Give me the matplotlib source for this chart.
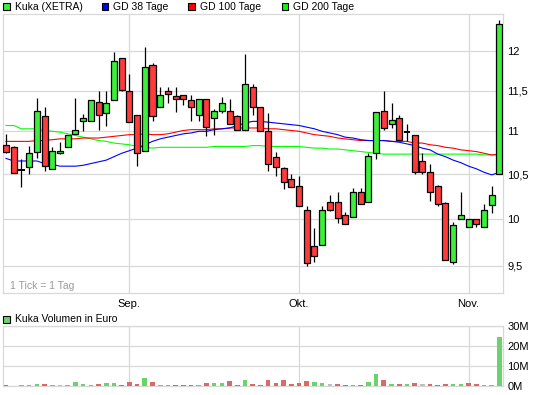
import numpy as np
import matplotlib
matplotlib.use("Agg")
import matplotlib.pyplot as plt
from matplotlib.patches import Rectangle
from matplotlib.ticker import NullLocator

# daily candles (EUR)
opens = [10.84, 10.81, 10.55, 10.58, 10.75, 11.18, 10.56, 10.74, 10.81, 10.97,
         11.12, 11.13, 11.36, 11.22, 11.38, 11.91, 11.50, 11.20, 10.77, 11.82,
         11.29, 11.50, 11.43, 11.45, 11.38, 11.20, 11.40, 11.16, 11.25, 11.25,
         11.18, 11.01, 11.55, 11.29, 11.00, 10.70, 10.57, 10.44, 10.36, 10.10,
         9.71, 9.72, 10.18, 10.19, 10.04, 10.02, 10.30, 10.19, 10.74, 11.25,
         11.09, 11.16, 10.99, 10.95, 10.65, 10.52, 10.36, 10.17, 9.54, 10.00,
         9.91, 10.00, 9.91, 10.15, 10.50]
highs = [10.97, 10.83, 10.67, 10.82, 11.41, 11.30, 10.81, 10.87, 10.95, 11.41,
         11.21, 11.38, 11.49, 11.49, 11.99, 11.91, 11.71, 11.20, 12.06, 11.85,
         11.54, 11.55, 11.54, 11.45, 11.45, 11.39, 11.40, 11.27, 11.42, 11.40,
         11.20, 11.97, 11.58, 11.29, 11.22, 10.76, 10.58, 10.50, 10.48, 10.14,
         9.90, 10.14, 10.26, 10.30, 10.07, 10.34, 10.34, 10.74, 11.23, 11.49,
         11.34, 11.20, 11.09, 10.95, 10.74, 10.61, 10.37, 10.19, 9.96, 10.30,
         10.00, 10.00, 10.16, 10.36, 12.42]
lows = [10.74, 10.51, 10.35, 10.50, 10.68, 10.53, 10.56, 10.73, 10.81, 10.97,
        11.00, 11.13, 11.02, 11.06, 11.38, 11.49, 11.11, 10.59, 10.77, 11.12,
        11.29, 11.35, 11.23, 11.32, 11.13, 11.12, 10.94, 10.96, 11.22, 11.09,
        11.01, 11.01, 11.20, 11.00, 10.54, 10.48, 10.33, 10.35, 10.14, 9.50,
        9.54, 9.72, 10.08, 9.95, 9.94, 10.02, 10.16, 10.18, 10.67, 11.01,
        11.04, 10.90, 10.89, 10.50, 10.50, 10.20, 10.14, 9.56, 9.52, 10.00,
        9.91, 9.91, 9.91, 10.06, 10.50]
closes = [10.75, 10.51, 10.55, 10.74, 11.25, 10.59, 10.77, 10.77, 10.95, 11.01,
          11.16, 11.38, 11.20, 11.34, 11.87, 11.51, 11.11, 10.74, 11.80, 11.18,
          11.45, 11.46, 11.40, 11.39, 11.30, 11.39, 11.05, 11.25, 11.35, 11.09,
          11.02, 11.58, 11.30, 11.00, 10.61, 10.58, 10.41, 10.35, 10.14, 9.53,
          9.60, 10.10, 10.10, 10.01, 9.94, 10.30, 10.16, 10.71, 11.23, 11.04,
          11.14, 10.90, 10.99, 10.52, 10.52, 10.30, 10.16, 9.56, 9.93, 10.04,
          10.00, 9.94, 10.10, 10.26, 12.36]

# moving averages
gd38 = [10.68, 10.65, 10.65, 10.65, 10.65, 10.62, 10.61, 10.59, 10.59, 10.59,
        10.60, 10.62, 10.64, 10.66, 10.70, 10.74, 10.77, 10.80, 10.84, 10.88,
        10.91, 10.93, 10.95, 10.97, 10.98, 11.00, 11.00, 11.02, 11.03, 11.04,
        11.07, 11.10, 11.12, 11.12, 11.11, 11.10, 11.09, 11.08, 11.07, 11.05,
        11.03, 11.00, 10.98, 10.96, 10.93, 10.92, 10.90, 10.89, 10.89, 10.89,
        10.88, 10.87, 10.85, 10.83, 10.80, 10.78, 10.73, 10.70, 10.66, 10.63,
        10.59, 10.56, 10.52, 10.49, 10.52]
gd100 = [10.88, 10.88, 10.88, 10.88, 10.89, 10.89, 10.90, 10.91, 10.91, 10.91,
         10.92, 10.92, 10.92, 10.93, 10.94, 10.95, 10.96, 10.96, 10.97, 10.96,
         10.96, 10.97, 10.99, 11.01, 11.02, 11.02, 11.02, 11.03, 11.03, 11.04,
         11.04, 11.04, 11.04, 11.04, 11.03, 11.03, 11.02, 11.01, 11.00, 10.98,
         10.96, 10.95, 10.94, 10.92, 10.91, 10.90, 10.89, 10.89, 10.89, 10.89,
         10.88, 10.88, 10.88, 10.86, 10.86, 10.84, 10.83, 10.81, 10.80, 10.78,
         10.77, 10.76, 10.74, 10.72, 10.73]
gd200 = [11.07, 11.07, 11.03, 11.03, 11.03, 11.01, 11.00, 10.99, 10.97, 10.95,
         10.93, 10.91, 10.89, 10.88, 10.86, 10.85, 10.84, 10.82, 10.81, 10.80,
         10.81, 10.81, 10.81, 10.81, 10.81, 10.81, 10.81, 10.82, 10.82, 10.82,
         10.82, 10.82, 10.83, 10.83, 10.82, 10.82, 10.82, 10.82, 10.82, 10.81,
         10.80, 10.80, 10.79, 10.79, 10.78, 10.77, 10.76, 10.75, 10.74, 10.73,
         10.73, 10.73, 10.73, 10.73, 10.73, 10.73, 10.73, 10.73, 10.73, 10.73,
         10.73, 10.73, 10.72, 10.72, 10.72]

# volume in million euro
volume_m = [0.5, 0.0, 0.5, 0.5, 1.0, 1.0, 0.5, 0.5, 0.5, 2.0,
            1.0, 0.5, 1.0, 1.5, 1.5, 0.5, 2.0, 1.0, 4.0, 2.0,
            0.5, 0.5, 0.5, 0.5, 0.5, 0.5, 1.5, 1.5, 1.5, 2.5,
            0.5, 3.0, 1.0, 0.5, 3.0, 1.5, 3.0, 1.0, 1.5, 2.5,
            2.0, 1.5, 1.0, 1.0, 0.5, 0.5, 0.5, 2.0, 6.0, 3.0,
            1.0, 1.0, 1.0, 1.5, 1.0, 1.0, 0.5, 1.0, 1.0, 1.0,
            1.5, 1.0, 0.5, 0.5, 24.5]

month_pos = [16, 38, 60]
month_labels = ["Sep.", "Okt.", "Nov."]
price_ticks = [9.5, 10, 10.5, 11, 11.5, 12]
price_labels = ["9,5", "10", "10,5", "11", "11,5", "12"]
vol_ticks = [0, 10, 20, 30]
vol_labels = ["0M", "10M", "20M", "30M"]
legend_labels = ["Kuka (XETRA)", "GD 38 Tage", "GD 100 Tage", "GD 200 Tage"]

plt.rcParams['font.family'] = ['Liberation Sans', 'DejaVu Sans']

W, H = 545, 395
GREEN, RED = '#3bef3b', '#ff3b3b'
VGREEN, VRED, VGREY = '#6ad46a', '#d96a6a', '#c0c0c0'
GRID = '#d8d8d8'
fig = plt.figure(figsize=(W / 100, H / 100), dpi=100)


def px_axes(x0, y0, x1, y1):
    return fig.add_axes([x0 / W, 1 - y1 / H, (x1 - x0) / W, (y1 - y0) / H])


def style(a):
    for s in a.spines.values():
        s.set_color(GRID)
        s.set_linewidth(0.9)
    a.grid(True, color=GRID, lw=0.9)
    a.set_axisbelow(True)
    a.yaxis.tick_right()
    a.tick_params(length=0, labelsize=8, pad=3)


ax = px_axes(2.7, 14, 503.3, 293.3)
axv = px_axes(2.7, 326, 503.3, 386)
style(ax)
style(axv)

o, h, l, c = map(np.array, (opens, highs, lows, closes))
x = np.arange(len(c))

ax.set_yscale('log')
ax.plot(x, gd200, color='#00ff00', lw=0.8, zorder=2)
ax.plot(x, gd100, color='#ff0000', lw=0.8, zorder=2)
ax.plot(x, gd38, color='#0000ff', lw=0.8, zorder=2)

up, dn, flat = c > o, c < o, np.isclose(c, o)
ax.vlines(x, l, h, color='black', lw=0.9, zorder=3)
ax.bar(x[up], (c - o)[up], bottom=o[up], width=0.78, color=GREEN,
       edgecolor='black', lw=0.9, zorder=4)
ax.bar(x[dn], (o - c)[dn], bottom=c[dn], width=0.78, color=RED,
       edgecolor='black', lw=0.9, zorder=4)
ax.hlines(c[flat], x[flat] - 0.42, x[flat] + 0.42, color='black', lw=1.4, zorder=4)

ax.set_xlim(-0.43, 64.5)
ax.set_ylim(9.22, 12.5)
ax.set_yticks(price_ticks, price_labels)
ax.yaxis.set_minor_locator(NullLocator())
ax.set_xticks(month_pos, month_labels)
ax.tick_params(axis='x', labelsize=8, pad=4)
ax.text(0.0146, 0.027, "1 Tick = 1 Tag", transform=ax.transAxes, color='#9a9a9a',
        fontsize=7.5, va='center', ha='left')

# volume colour follows the change against the previous close
chg = np.diff(c, prepend=np.nan)
chg[0] = c[0] - o[0]
chg[np.isclose(chg, 0)] = 0
vcol = [VGREEN if d > 0 else VRED if d < 0 else VGREY for d in chg]
axv.bar(x, volume_m, width=0.6, color=vcol, zorder=3)
axv.set_xlim(-0.43, 64.5)
axv.set_ylim(0, 30)
axv.set_yticks(vol_ticks, vol_labels)
axv.set_xticks(month_pos, [])

# legends
leg_colors = [GREEN, '#0000ff', '#ff0000', '#00ff00']
leg_x = [3.3, 101.7, 188.3, 281.7]
for lab, col, lx in zip(legend_labels, leg_colors, leg_x):
    fig.patches.append(Rectangle((lx / W, 1 - 9.7 / H), 6.5 / W, 6.5 / H,
                                 transform=fig.transFigure, facecolor=col,
                                 edgecolor='black', lw=0.8))
    fig.text((lx + 11.5) / W, 1 - 6.6 / H, lab, fontsize=7.5, va='center', ha='left')

fig.patches.append(Rectangle((3.3 / W, 1 - 322.5 / H), 6.5 / W, 6.5 / H,
                             transform=fig.transFigure, facecolor=VGREEN,
                             edgecolor='black', lw=0.8))
fig.text(14.8 / W, 1 - 319.3 / H, "Kuka Volumen in Euro", fontsize=7.5,
         va='center', ha='left')

fig.savefig("out.png", dpi=100, facecolor='white')
